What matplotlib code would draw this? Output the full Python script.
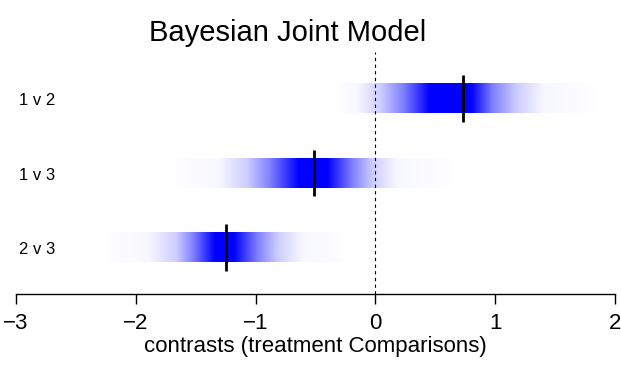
import numpy as np
import matplotlib
matplotlib.use("Agg")
import matplotlib.pyplot as plt

plt.rcParams['font.family'] = ['Liberation Sans', 'DejaVu Sans']

# comparisons, top to bottom
labels = ["1 v 2", "1 v 3", "2 v 3"]
rows = [3, 2, 1]
medians = [0.73, -0.51, -1.25]

# shading stops (x position, blue intensity)
stops_12 = [-0.32, -0.15, 0.04, 0.23, 0.45, 0.73, 0.80, 0.98, 1.18, 1.40, 1.82]
stops_13 = [-1.67, -1.30, -1.07, -0.88, -0.64, -0.51, -0.40, -0.19, -0.02, 0.18, 0.62]
stops_23 = [-2.23, -1.89, -1.66, -1.52, -1.34, -1.25, -1.18, -0.98, -0.81, -0.61, -0.27]
shade = [0.008, 0.035, 0.2, 0.5, 1.0, 1.0, 1.0, 0.5, 0.2, 0.035, 0.008]
stops = [stops_12, stops_13, stops_23]

xticks = [-3, -2, -1, 0, 1, 2]

fig = plt.figure(figsize=(6.21, 3.66), dpi=100)
ax = fig.add_axes([16/621, 72/366, 599/621, 242/366])

strip_h = 0.39
for y, m, st in zip(rows, medians, stops):
    xs = np.linspace(st[0], st[-1], 400)
    a = np.interp(xs, st, shade)
    img = np.zeros((1, len(xs), 4))
    img[..., 2] = 1.0
    img[0, :, 3] = a
    ax.imshow(img, extent=[st[0], st[-1], y - strip_h/2, y + strip_h/2],
              aspect='auto', interpolation='bilinear', zorder=1)
    ax.plot([m, m], [y - 0.315, y + 0.315], color='black', lw=2, zorder=3,
            solid_capstyle='butt')

for y, lab in zip(rows, labels):
    ax.text(-2.975, y - 0.03, lab, ha='left', va='center', fontsize=12)

ax.axvline(0, color='black', lw=0.8, ls=(0, (3, 3)), zorder=2)

ax.set_xlim(-3, 2)
ax.set_ylim(0.376, 3.624)
for s in ['top', 'right', 'left']:
    ax.spines[s].set_visible(False)
ax.spines['bottom'].set_linewidth(1)
ax.set_yticks([])
ax.set_xticks(xticks)
ax.set_xticklabels([str(t).replace('-', '\u2212') for t in xticks])
ax.tick_params(axis='x', length=7, width=1, labelsize=16, pad=7)
ax.set_xlabel("contrasts (treatment Comparisons)", fontsize=16, labelpad=1)

fig.text(288/621, 1 - 33/366, "Bayesian Joint Model", ha='center', va='center',
         fontsize=21)

fig.savefig("out.png", dpi=100)
